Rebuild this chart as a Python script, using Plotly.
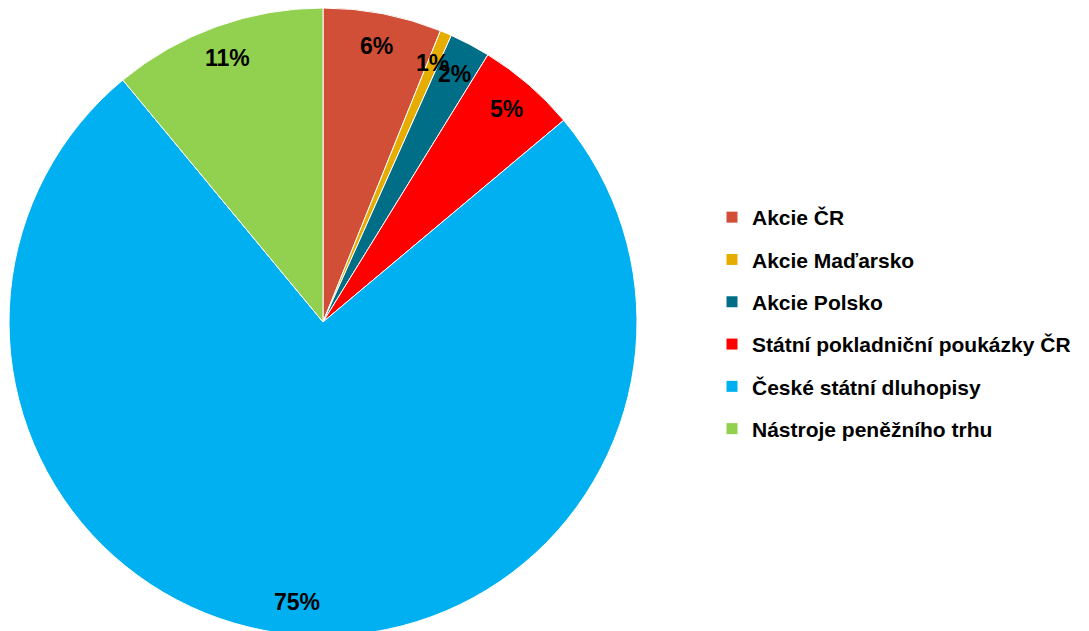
import math

import plotly.graph_objects as go

# data (shares in %)
categories = [
    "Akcie ČR",
    "Akcie Maďarsko",
    "Akcie Polsko",
    "Státní pokladniční poukázky ČR",
    "České státní dluhopisy",
    "Nástroje peněžního trhu",
]
shares = [6.1, 0.6, 2.1, 5.1, 75.1, 11.0]
pct_labels = [f"{round(v)}%" for v in shares]

COLORS = ["#d14f36", "#e6ac00", "#006e87", "#ff0000", "#00b0f0", "#92d050"]

W, H = 1089, 631
FONT = "Liberation Sans, Arial, sans-serif"

# pie placement (figure sits 8px in from the page corner)
PIE_CX, PIE_CY, PIE_R = 315, 314, 314  # px, y from top
DOM_X = [(PIE_CX - PIE_R) / W, (PIE_CX + PIE_R) / W]
DOM_Y = [1 - (PIE_CY + PIE_R) / H, 1 - (PIE_CY - PIE_R) / H]

fig = go.Figure()

fig.add_trace(go.Pie(
    labels=categories,
    values=shares,
    sort=False,
    direction="clockwise",
    rotation=0,
    marker=dict(colors=COLORS, line=dict(color="white", width=1)),
    textinfo="none",
    hoverinfo="label+percent",
    showlegend=False,
    domain=dict(x=DOM_X, y=DOM_Y),
))

# percentage labels near the rim (like Excel "inside end")
total = sum(shares)
acc = 0.0
for v, lab in zip(shares, pct_labels):
    mid = (acc + v / 2) / total * 2 * math.pi
    acc += v
    rl = 0.895 * PIE_R
    fig.add_annotation(
        x=(PIE_CX + rl * math.sin(mid)) / W,
        y=1 - (PIE_CY - rl * math.cos(mid)) / H,
        xref="paper", yref="paper",
        xanchor="center", yanchor="middle",
        text=lab, showarrow=False,
        font=dict(family=FONT, size=23, color="black", weight="bold"),
    )

# legend entries
for name, col in zip(categories, COLORS):
    fig.add_trace(go.Scatter(
        x=[None], y=[None],
        mode="markers",
        marker=dict(symbol="square", size=11, color=col),
        name=name,
        legendgroup=name,
        hoverinfo="skip",
    ))

fig.update_layout(
    width=W,
    height=H,
    paper_bgcolor="white",
    plot_bgcolor="white",
    margin=dict(l=0, r=0, t=0, b=0),
    xaxis=dict(visible=False),
    yaxis=dict(visible=False),
    legend=dict(
        x=704 / W, xanchor="left",
        y=1 - 189 / H, yanchor="top",
        traceorder="grouped",
        tracegroupgap=12,
        font=dict(family=FONT, size=21, color="black", weight="bold"),
        bgcolor="rgba(0,0,0,0)",
    ),
)

fig.write_html("out.html")
